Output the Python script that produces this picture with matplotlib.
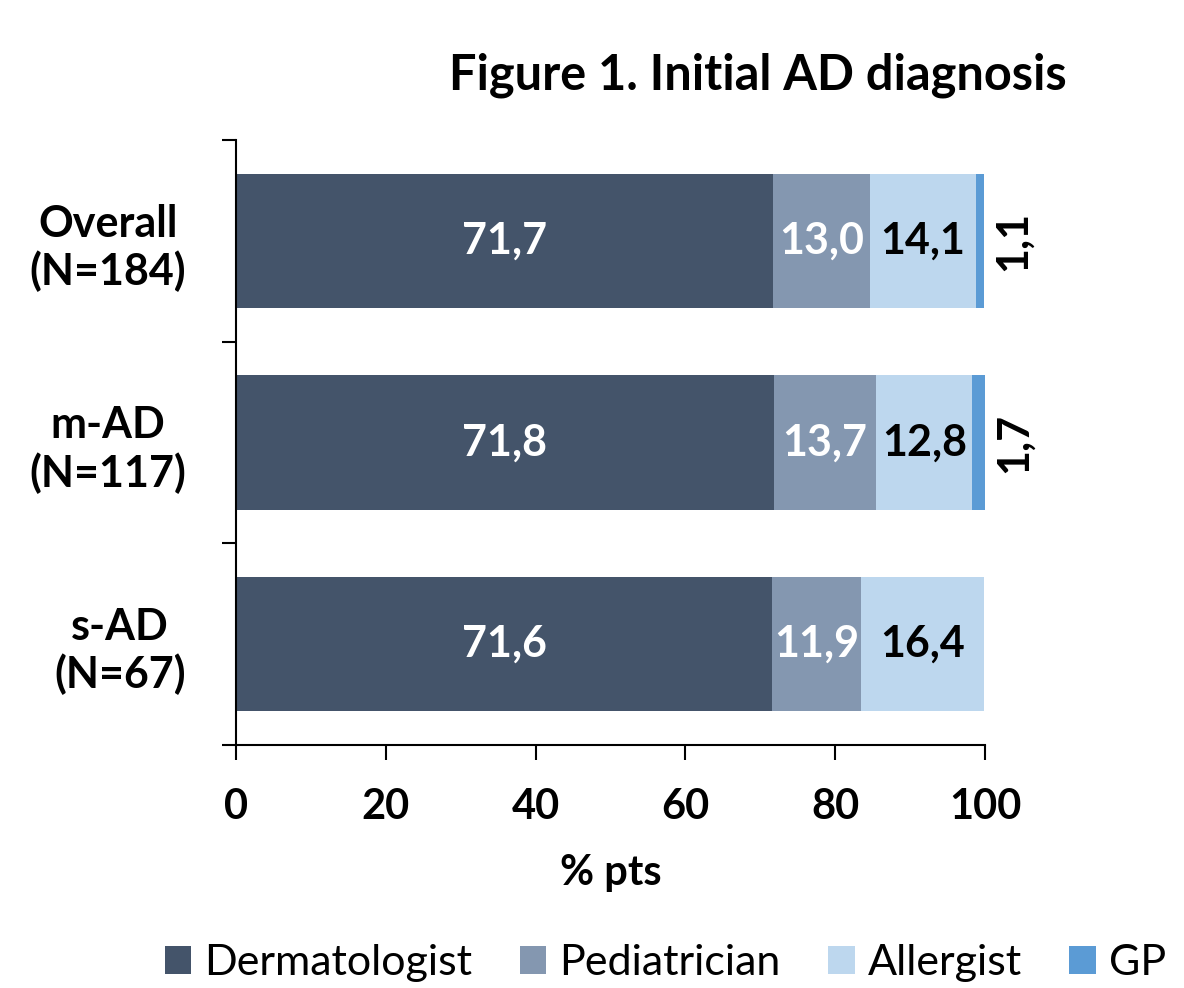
import matplotlib
matplotlib.use("Agg")
import matplotlib.pyplot as plt
import numpy as np

plt.rcParams['font.family'] = ['Lato', 'DejaVu Sans']

# dati
gruppi = ["Overall\n(N=184)", "m-AD\n(N=117)", "s-AD\n(N=67)"]
specialisti = ["Dermatologist", "Pediatrician", "Allergist", "GP"]
dermatologist = [71.7, 71.8, 71.6]
pediatrician = [13.0, 13.7, 11.9]
allergist = [14.1, 12.8, 16.4]
gp = [1.1, 1.7, 0.0]
colori = ["#44546A", "#8497B0", "#BDD7EE", "#5B9BD5"]
colori_testo = ["white", "white", "black", "black"]

serie = [dermatologist, pediatrician, allergist, gp]

fig = plt.figure(figsize=(11.84, 9.88), dpi=100)
ax = fig.add_axes([0.1993, 0.2460, 0.6326, 0.6123])

y = np.arange(len(gruppi))
left = np.zeros(len(gruppi))
for valori, nome, col, col_t in zip(serie, specialisti, colori, colori_testo):
    valori = np.array(valori)
    ax.barh(y, valori, left=left, height=0.665, color=col, label=nome)
    for yi, v, l in zip(y, valori, left):
        if v == 0:
            continue
        testo = f"{v:.1f}".replace(".", ",")
        if nome == "GP":
            ax.text(l + v + 3.8, yi, testo, rotation=90, ha="center", va="center",
                    fontsize=31, fontweight="bold", color=col_t)
        else:
            ax.text(l + v / 2, yi, testo, ha="center", va="center",
                    fontsize=31, fontweight="bold", color=col_t)
    left = left + valori

ax.set_xlim(0, 100)
ax.set_ylim(2.5, -0.5)
ax.set_xticks([0, 20, 40, 60, 80, 100])
ax.tick_params(axis="x", direction="out", length=11, width=1.5, pad=20, labelsize=30)
for lab in ax.get_xticklabels():
    lab.set_fontweight("bold")

ax.set_yticks(y)
ax.set_yticklabels(gruppi, fontsize=31, fontweight="bold", multialignment="center")
ax.tick_params(axis="y", which="major", length=0, pad=36)
ax.set_yticks([-0.5, 0.5, 1.5, 2.5], minor=True)
ax.tick_params(axis="y", which="minor", direction="out", length=10, width=1.5)

for s in ["top", "right"]:
    ax.spines[s].set_visible(False)
ax.spines["left"].set_linewidth(1.5)
ax.spines["bottom"].set_linewidth(1.5)

ax.set_xlabel("% pts", fontsize=30, fontweight="bold", labelpad=20)

fig.text(0.640, 0.924, "Figure 1. Initial AD diagnosis", ha="center", va="center",
         fontsize=35, fontweight="bold")

fig.legend(loc="center", bbox_to_anchor=(0.562, 0.025), ncol=4, frameon=False,
           fontsize=31, handlelength=0.62, handleheight=0.62, handletextpad=0.3,
           columnspacing=1.1, borderpad=0.1)

fig.savefig("out.png", dpi=100)
